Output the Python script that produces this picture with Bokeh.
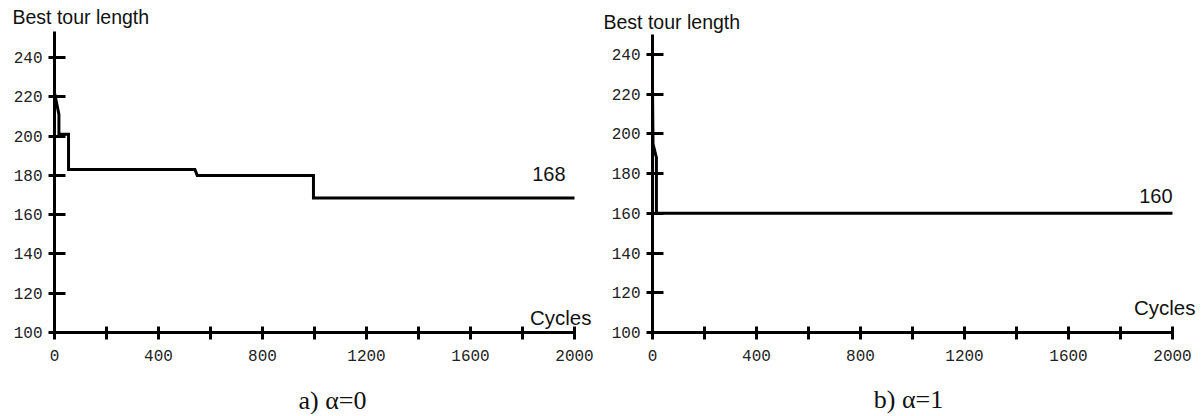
from bokeh.plotting import figure
from bokeh.layouts import row
from bokeh.models import Range1d, FixedTicker
from bokeh.core.properties import value
from bokeh.embed import file_html
from bokeh.resources import INLINE

# ---- data ----
a_cycles = [0, 0, 17, 17, 54, 54, 540, 549, 996, 996, 2000]
a_length = [236, 222, 211, 201, 201, 183, 183, 180, 180, 168.5, 168.5]
a_final = 168

b_cycles = [0, 2, 15, 15, 2000]
b_length = [224, 195, 188, 160, 160]
b_final = 160

x_major = [0, 400, 800, 1200, 1600, 2000]
x_minor = [200, 600, 1000, 1400, 1800]
y_ticks = [100, 120, 140, 160, 180, 200, 220, 240]

captions = ["a) \u03b1=0", "b) \u03b1=1"]
y_title = "Best tour length"
x_title = "Cycles"

HEIGHT = 414


def make_panel(xs, ys, final, caption, width, x0_px, y_px_scale, y_top,
               title_dx, title_dy, cyc_dx, cyc_dy, fin_dx, fin_dy, cap_dx, cap_dy):
    # frame = whole canvas; axes are drawn at fixed data locations inside it
    xs_scale = 0.26  # px per cycle
    x_start = -x0_px / xs_scale
    x_end = (width - x0_px) / xs_scale
    y_end = 100 + 332 / y_px_scale
    y_start = 100 - (HEIGHT - 332) / y_px_scale
    p = figure(width=width, height=HEIGHT, output_backend="svg", toolbar_location=None,
               x_range=Range1d(x_start, x_end), y_range=Range1d(y_start, y_end),
               min_border=0, min_border_left=0, min_border_right=0,
               min_border_top=0, min_border_bottom=0)
    p.title.visible = False
    p.outline_line_color = None
    p.background_fill_color = "white"
    p.border_fill_color = "white"
    p.xgrid.visible = False
    p.ygrid.visible = False

    p.line(xs, ys, line_color="black", line_width=3, line_join="miter")

    xa = p.xaxis[0]
    ya = p.yaxis[0]
    xa.fixed_location = 100
    ya.fixed_location = 0
    xa.bounds = (0, 2000)
    ya.bounds = (100, y_top)
    xa.ticker = FixedTicker(ticks=x_major, minor_ticks=x_minor)
    ya.ticker = FixedTicker(ticks=y_ticks, minor_ticks=[])
    for ax in (xa, ya):
        ax.axis_line_width = 3
        ax.axis_line_color = "black"
        ax.major_tick_line_width = 3
        ax.minor_tick_line_width = 3
        ax.major_tick_line_color = "black"
        ax.minor_tick_line_color = "black"
        ax.major_label_text_font = "Liberation Mono"
        ax.major_label_text_font_size = "16px"
        ax.major_label_text_color = "#222222"
    xa.major_tick_in = 6
    xa.major_tick_out = 7
    xa.minor_tick_in = 6
    xa.minor_tick_out = 7
    xa.major_label_standoff = 10
    ya.major_tick_in = 11
    ya.major_tick_out = 6
    ya.major_label_standoff = 6

    sans = value("Liberation Sans")
    p.text(x=[0], y=[y_top], text=[y_title], text_font=sans, text_font_size="19.5px",
           text_color="#111111", text_baseline="middle", text_align="left",
           x_offset=title_dx, y_offset=title_dy)
    p.text(x=[2000], y=[100], text=[x_title], text_font=sans, text_font_size="20.5px",
           text_color="#111111", text_baseline="middle", text_align="right",
           x_offset=cyc_dx, y_offset=cyc_dy)
    p.text(x=[2000], y=[final], text=[str(final)], text_font=sans, text_font_size="20px",
           text_color="#111111", text_baseline="middle", text_align="right",
           x_offset=fin_dx, y_offset=fin_dy)
    p.text(x=[1000], y=[100], text=[caption], text_font=value("Liberation Serif"),
           text_font_size="26px", text_color="#111111", text_baseline="middle",
           text_align="center", x_offset=cap_dx, y_offset=cap_dy)
    return p


p1 = make_panel(a_cycles, a_length, a_final, captions[0], 601, 54, 1.964, 253.5,
                -42, -14, 17, -15.5, -9, -24.5, 18, 68)
p2 = make_panel(b_cycles, b_length, b_final, captions[1], 599, 51, 1.986, 250,
                -49, -13, 23, -25.5, 0, -17.5, -4, 67)

layout = row(p1, p2)
open("out.html", "w").write(file_html(layout, INLINE))
